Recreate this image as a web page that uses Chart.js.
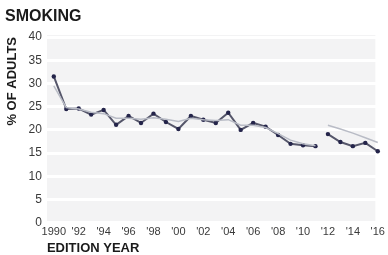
<!DOCTYPE html>
<html><head><meta charset="utf-8">
<script src="https://cdn.jsdelivr.net/npm/chart.js@4.4.0/dist/chart.umd.min.js"></script>
<style>html,body{margin:0;padding:0;background:#fff;}#wrap{width:388px;height:255px;}</style>
</head><body><div id="wrap"><canvas id="c" width="388" height="255"></canvas></div>
<script>
const years = [1990,1991,1992,1993,1994,1995,1996,1997,1998,1999,2000,2001,2002,2003,2004,2005,2006,2007,2008,2009,2010,2011,2012,2013,2014,2015,2016];
// state rate (dark, with markers); series breaks between 2011 and 2012
const stateEarly = [31.5,24.5,24.6,23.3,24.3,21.1,23.0,21.5,23.5,21.7,20.2,23.0,22.2,21.5,23.7,20.0,21.5,20.7,18.9,17.0,16.7,16.5,null,null,null,null,null];
const stateLate  = [null,null,null,null,null,null,null,null,null,null,null,null,null,null,null,null,null,null,null,null,null,null,19.1,17.4,16.5,17.2,15.4];
// national rate (light line)
const natEarly = [29.5,24.8,24.5,23.8,23.5,22.5,22.5,22.3,22.6,22.3,21.8,22.5,22.2,22.0,22.2,21.0,21.0,20.5,19.2,17.8,17.0,16.6,null,null,null,null,null];
const natLate  = [null,null,null,null,null,null,null,null,null,null,null,null,null,null,null,null,null,null,null,null,null,null,21.0,20.2,19.3,18.3,17.3];
const xTickYears = [1990,1992,1994,1996,1998,2000,2002,2004,2006,2008,2010,2012,2014,2016];
const xTickLabels = ["1990","'92","'94","'96","'98","'00","'02","'04","'06","'08","'10","'12","'14","'16"];
const yTicks = [0,5,10,15,20,25,30,35,40];

const pts = arr => years.map((y,i)=>({x:y,y:arr[i]}));
const FONT = "'Liberation Sans Narrow','Liberation Sans',Arial,sans-serif";
const BOLD = "'Liberation Sans',Arial,sans-serif";

const bgPlugin = {
  id:'bg',
  beforeDraw(chart){
    const {ctx, chartArea:a} = chart;
    ctx.save(); ctx.fillStyle='#f3f3f4';
    ctx.fillRect(a.left, a.top-2, a.right-a.left-8, a.bottom-a.top+2);
    ctx.restore();
  }
};

const lightStyle = {borderColor:'#b9bcc6', borderWidth:1.5, pointRadius:0, fill:false, tension:0, spanGaps:false};
const darkStyle = {borderColor:'#55566a', borderWidth:2, pointRadius:2.2, pointBackgroundColor:'#24244a', pointBorderColor:'#24244a', pointBorderWidth:0, fill:false, tension:0, spanGaps:false};

new Chart(document.getElementById('c'), {
  type:'line',
  data:{datasets:[
    Object.assign({label:'nat1', data:pts(natEarly)}, lightStyle),
    Object.assign({label:'nat2', data:pts(natLate)}, lightStyle),
    Object.assign({label:'st1', data:pts(stateEarly)}, darkStyle),
    Object.assign({label:'st2', data:pts(stateLate)}, darkStyle)
  ]},
  options:{
    responsive:false, animation:false, devicePixelRatio:1,
    layout:{padding:{left:5,right:2,top:0,bottom:0}},
    plugins:{
      legend:{display:false}, tooltip:{enabled:false},
      title:{display:true, text:'SMOKING', align:'start', color:'#1a1a1a',
        font:{family:BOLD, size:16, weight:'bold', lineHeight:1}, padding:{top:9,bottom:12}}
    },
    scales:{
      x:{type:'linear', min:1989.45, max:2016.45,
        afterBuildTicks(s){ s.ticks = xTickYears.map(v=>({value:v})); },
        ticks:{autoSkip:false, maxRotation:0, padding:3, color:'#3a3a3a',
          font:{family:FONT, size:11},
          callback:(v)=>xTickLabels[xTickYears.indexOf(v)]},
        grid:{display:false, drawTicks:false}, border:{display:false},
        title:{display:true, text:'EDITION YEAR', align:'start', color:'#1a1a1a',
          font:{family:BOLD, size:13, weight:'bold', lineHeight:1}, padding:{top:0,bottom:0}}
      },
      y:{min:0, max:40,
        afterBuildTicks(s){ s.ticks = yTicks.map(v=>({value:v})); },
        ticks:{color:'#3a3a3a', padding:5, font:{family:FONT, size:12}},
        grid:{color:'#ffffff', lineWidth:3, drawTicks:false}, border:{display:false},
        title:{display:true, text:'% OF ADULTS', align:'end', color:'#1a1a1a',
          font:{family:BOLD, size:13, weight:'bold'}, padding:{top:0,bottom:3}}
      }
    }
  },
  plugins:[bgPlugin]
});
</script></body></html>
